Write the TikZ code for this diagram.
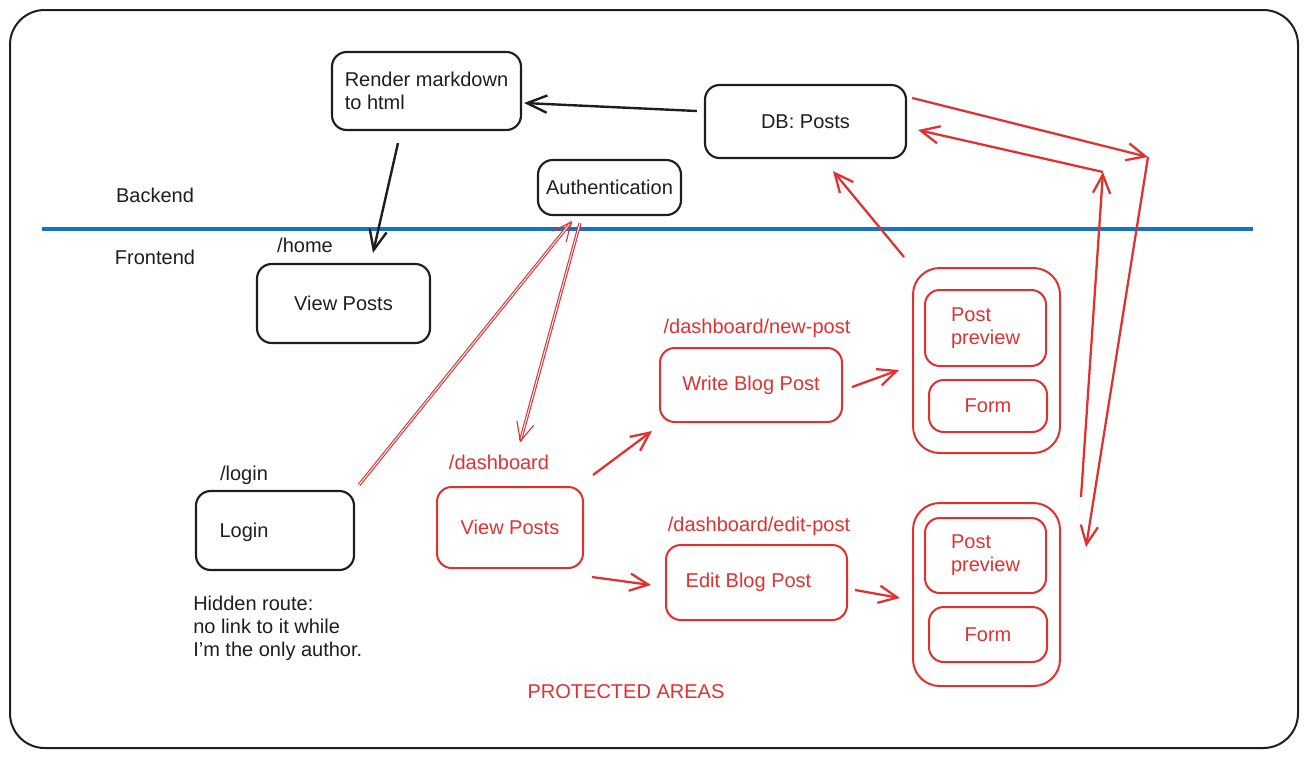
\documentclass[tikz,border=0pt]{standalone}
\usepackage{fontspec}
\setmainfont{Liberation Sans}
\usetikzlibrary{arrows.meta,calc}
\definecolor{ink}{HTML}{1E1E1E}
\definecolor{rd}{HTML}{E03131}
\definecolor{bl}{HTML}{1971C2}
\tikzset{
  box/.style={draw=ink, line width=1.6pt, rounded corners=11pt, align=left, inner sep=0pt, text=ink},
  rbox/.style={box, draw=rd, text=rd, line width=1.5pt},
  gbox/.style={rbox, rounded corners=20pt},
  sz/.style 2 args={minimum width=#1*0.75pt, minimum height=#2*0.75pt},
  txt/.style={text=ink, inner sep=0pt, align=left},
  rtxt/.style={txt, text=rd},
  karrow/.style={draw=ink, line width=1.8pt, -{Straight Barb[length=15pt,width=13pt,line width=1.8pt]}},
  rarrow/.style={draw=rd, line width=1.7pt, -{Straight Barb[length=14pt,width=13pt,line width=1.7pt]}},
  rdbl/.style={draw=rd, line width=0.85pt, double=white, double distance=0.7pt, -{Straight Barb[length=14pt,width=13pt]}},
}
\begin{document}
\begin{tikzpicture}[x=0.75pt,y=-0.75pt, font=\fontsize{15}{17.25}\selectfont]
\useasboundingbox (0,0) rectangle (1308,758);
% frame
\draw[ink, line width=1.5pt, rounded corners=26pt] (10,10) rectangle (1298,748);
% divider
\draw[bl, line width=2.3pt] (42,229) -- (1253,229);
\node[txt] (backend) at (155,195) {Backend};
\node[txt] (frontend) at (155,257) {Frontend};

% backend nodes
\node[box, sz={189}{78}] (render) at (426.5,91) {Render markdown\\to html};
\node[box, sz={201}{73}] (db) at (805.5,121.5) {DB: Posts};
\node[box, sz={143}{55}] (auth) at (609.5,187.5) {Authentication};

% frontend public
\node[txt] (homelbl) at (305,245) {/home};
\node[box, sz={173}{79}] (home) at (343.5,303.5) {View Posts};
\node[txt] (loginlbl) at (244,475) {/login};
\node[box, sz={158}{79}] (login) at (275,530.5) {};
\node[txt] (logintxt) at (244,532) {Login};
\node[txt, anchor=north west] (hidden) at (193,596) {Hidden route:\\no link to it while\\I'm the only author.};

% protected
\node[rtxt] (dashlbl) at (499,462) {/dashboard};
\node[rbox, sz={146}{81}] (dash) at (510,527.5) {View Posts};
\node[rtxt] (newlbl) at (757,328) {/dashboard/new-post};
\node[rbox, sz={182}{74}] (write) at (751,385) {Write Blog Post};
\node[rtxt] (editlbl) at (759,526) {/dashboard/edit-post};
\node[rbox, sz={181}{75}] (edit) at (756.5,582.5) {Edit Blog Post\hspace*{12pt}};

\node[gbox, sz={147}{185}] (g1) at (986.5,360.5) {};
\node[rbox, sz={121}{76}] (pp1) at (985.5,328) {Post\\preview};
\node[rbox, sz={118}{52}] (f1) at (988,406) {Form};
\node[gbox, sz={147}{183}] (g2) at (986.5,594.5) {};
\node[rbox, sz={121}{75}] (pp2) at (985.5,555.5) {Post\\preview};
\node[rbox, sz={118}{55}] (f2) at (988,634.5) {Form};

\node[rtxt] (prot) at (626,692) {PROTECTED AREAS};

\coordinate (c1) at (1148,157);
\coordinate (c2) at (1103,172);

% black arrows
\draw[karrow] ($(render.south)+(-28.5,12)$) -- ($(home.north)+(29.5,-10)$);
\draw[karrow] ($(db.west)+(-7,-10.5)$) -- ($(render.east)+(2,12)$);

% red arrows
\draw[rdbl] ($(login.north east)+(4,-5)$) -- ($(auth.south)+(-37.5,5)$);
\draw[rdbl] ($(auth.south)+(-29.5,7)$) -- ($(dashlbl.north)+(21,-12)$);
\draw[rarrow] ($(dash.north east)+(9,-11)$) -- ($(write.south west)+(-7,8)$);
\draw[rarrow] ($(dash.south east)+(8,8)$) -- ($(edit.west)+(-14,2.5)$);
\draw[rarrow] ($(write.east)+(9,2)$) -- ($(g1.west)+(-13,9.5)$);
\draw[rarrow] ($(edit.east)+(7,7.5)$) -- ($(g2.west)+(-12,3.5)$);
\draw[rarrow] ($(g1.north west)+(-8,-10)$) -- ($(db.south)+(27.5,12)$);
\draw[rarrow] ($(db.north east)+(5,14)$) -- (c1);
\draw[rarrow] (c1) -- ($(g2.north east)+(25,45)$);
\draw[rarrow] ($(g2.north east)+(20,-5)$) -- (c2);
\draw[rarrow] (c2) -- ($(db.east)+(11,8.5)$);
\end{tikzpicture}
\end{document}
